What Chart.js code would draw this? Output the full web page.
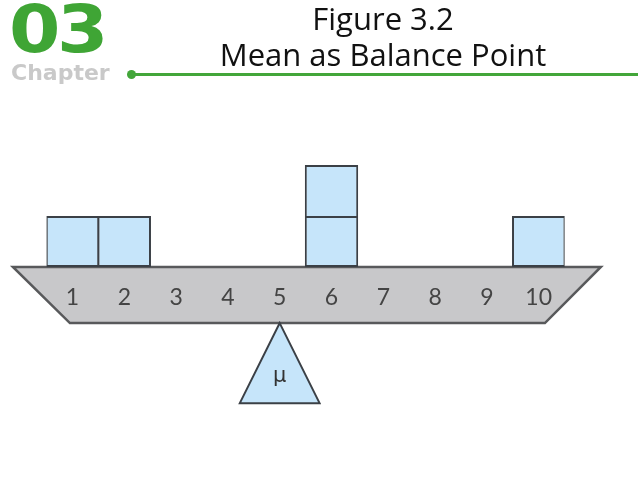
<!DOCTYPE html>
<html><head><meta charset="utf-8">
<script src="https://cdn.jsdelivr.net/npm/chart.js@4"></script>
<style>
html,body{margin:0;padding:0;background:#fff;width:638px;height:479px;overflow:hidden;}
#wrap{position:relative;width:638px;height:479px;}
canvas{position:absolute;left:0;top:0;}
.logo{position:absolute;left:9px;top:-9px;font:900 66px "DejaVu Sans",sans-serif;color:#3fa535;letter-spacing:-3px;transform:scaleX(1.12);transform-origin:left;}
.chap{position:absolute;left:11px;top:60px;font:700 22px "DejaVu Sans",sans-serif;color:#c9c9c9;}
.line{position:absolute;left:133px;top:73px;width:505px;height:3px;background:#43a63a;}
.dot{position:absolute;left:127px;top:70px;width:9px;height:9px;border-radius:50%;background:#43a63a;}
.title{position:absolute;left:183px;width:400px;text-align:center;font:31px "Open Sans",Lato,sans-serif;color:#111;line-height:36px;top:0px;}
</style></head>
<body><div id="wrap">
<canvas id="c" width="638" height="479"></canvas>
<div class="logo">03</div>
<div class="chap">Chapter</div>
<div class="dot"></div><div class="line"></div>
<div class="title">Figure 3.2<br>Mean as Balance Point</div>
</div>
<script>
const tickLabels = ['1','2','3','4','5','6','7','8','9','10'];
const dataValues = [1, 2, 6, 6, 10];
const counts = tickLabels.map(t => dataValues.filter(v => String(v) === t).length);
const maxCount = Math.max(...counts);
const layers = [];
for (let k = 0; k < maxCount; k++) layers.push(counts.map(c => c > k ? 1 : 0));
const mean = dataValues.reduce((a,b)=>a+b,0) / dataValues.length;

const boxFill = '#c6e5fa', boxStroke = '#3b4046';

const beamPlugin = {
  id: 'beam',
  beforeDraw(chart) {
    const ctx = chart.ctx, xs = chart.scales.x, ys = chart.scales.y;
    ctx.save();
    ctx.fillStyle = '#fff';
    ctx.fillRect(0, 0, chart.width, chart.height);
    const p0 = xs.getPixelForValue(0), p9 = xs.getPixelForValue(tickLabels.length - 1);
    const step = xs.getPixelForValue(1) - p0;
    const yTop = ys.getPixelForValue(0), yBot = ys.getPixelForValue(-1.1);
    ctx.beginPath();
    ctx.moveTo(p0 - 1.15 * step, yTop);
    ctx.lineTo(p9 + 1.2 * step, yTop);
    ctx.lineTo(p9 + 0.12 * step, yBot);
    ctx.lineTo(p0 - 0.05 * step, yBot);
    ctx.closePath();
    ctx.fillStyle = '#c8c8ca';
    ctx.fill();
    ctx.lineWidth = 2.5;
    ctx.strokeStyle = '#58595b';
    ctx.stroke();
    // fulcrum at the mean
    const mx = xs.getPixelForValue(mean - 1);
    const yBase = ys.getPixelForValue(-2.67);
    ctx.beginPath();
    ctx.moveTo(mx, yBot);
    ctx.lineTo(mx + 0.77 * step, yBase);
    ctx.lineTo(mx - 0.77 * step, yBase);
    ctx.closePath();
    ctx.fillStyle = boxFill;
    ctx.fill();
    ctx.lineWidth = 2;
    ctx.strokeStyle = boxStroke;
    ctx.stroke();
    ctx.fillStyle = '#333';
    ctx.font = '21px "DejaVu Sans", sans-serif';
    ctx.textAlign = 'center';
    ctx.textBaseline = 'middle';
    ctx.fillText('\u03bc', mx, ys.getPixelForValue(-2.15));
    ctx.restore();
  }
};

new Chart(document.getElementById('c'), {
  type: 'bar',
  data: {
    labels: tickLabels,
    datasets: layers.map((l, k) => ({
      data: l,
      backgroundColor: boxFill,
      borderColor: boxStroke,
      borderWidth: 2,
      borderSkipped: k === 0 ? false : 'bottom',
      barPercentage: 1.03,
      categoryPercentage: 1
    }))
  },
  options: {
    responsive: false,
    animation: false,
    devicePixelRatio: 1,
    layout: { padding: { left: 46.6, right: 73.4, top: 114, bottom: 8 } },
    plugins: { legend: { display: false }, tooltip: { enabled: false } },
    scales: {
      x: {
        stacked: true,
        position: { y: 0 },
        grid: { display: false, drawTicks: false },
        border: { display: false },
        ticks: { padding: 17, color: '#444', font: { family: 'Lato', size: 23 } }
      },
      y: {
        stacked: true, display: false, min: -4, max: 3
      }
    }
  },
  plugins: [beamPlugin]
});
</script>
</body></html>
